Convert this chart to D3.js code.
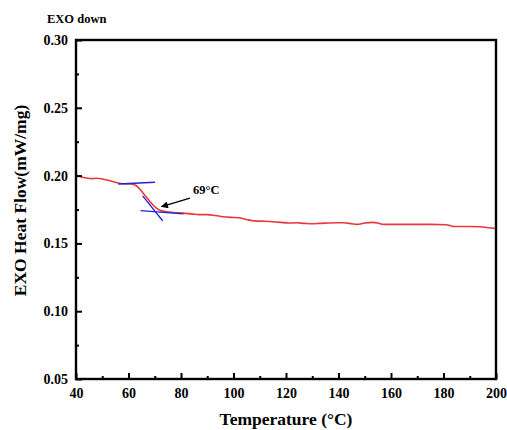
<!DOCTYPE html>
<html>
<head>
<meta charset="utf-8">
<script src="https://cdn.jsdelivr.net/npm/d3@7"></script>
<style>
  html, body { margin: 0; padding: 0; background: #fff; }
  svg { display: block; }
  text { font-family: "Liberation Serif", "Times New Roman", serif; font-weight: bold; fill: #000; }
</style>
</head>
<body>
<svg id="chart" width="507" height="430"></svg>
<script>
// DSC heating curve: temperature (°C) and heat flow (mW/mg)
const temperature = [40, 42, 44, 46, 48, 50, 53, 56, 58, 61, 63, 64.5, 66, 67.5, 69, 70.5, 72, 74, 77, 80,
  84, 87, 90, 93, 96, 99, 102, 105, 108, 112, 116, 118, 121, 124, 127, 130, 133, 136, 139, 142,
  145, 147, 150, 153, 155, 157, 165, 175, 181, 184, 190, 194, 197, 200];
const heatFlow = [0.2005, 0.1990, 0.1982, 0.1978, 0.1980, 0.1975, 0.1962, 0.1945, 0.1940, 0.1938, 0.1925, 0.1895, 0.1860, 0.1825, 0.1790, 0.1762, 0.1745, 0.1735, 0.1728, 0.1724,
  0.1718, 0.1712, 0.1712, 0.1706, 0.1697, 0.1692, 0.1689, 0.1676, 0.1666, 0.1663, 0.1658, 0.1655, 0.1650, 0.1652, 0.1648, 0.1645, 0.1648, 0.1650, 0.1652, 0.1652,
  0.1645, 0.1640, 0.1650, 0.1655, 0.1650, 0.1640, 0.1640, 0.1640, 0.1638, 0.1625, 0.1625, 0.1623, 0.1615, 0.1610];

// Tangent construction lines for the glass transition (start/end points)
const tangentTemps = [[56.1, 70.1], [65.4, 73.0], [64.6, 80.9]];
const tangentFlows = [[0.1938, 0.1951], [0.1850, 0.1667], [0.1741, 0.1717]];

// Annotation: arrow tail -> head, and label position
const arrowTemps = [83.4, 72.6];
const arrowFlows = [0.1833, 0.1771];
const labelText = "69°C";
const labelTemp = 84.6;
const labelFlow = 0.1864;

// Axis ticks
const xTicks = [40, 60, 80, 100, 120, 140, 160, 180, 200];
const xMinorTicks = [50, 70, 90, 110, 130, 150, 170, 190];
const yTicks = [0.05, 0.10, 0.15, 0.20, 0.25, 0.30];
const yMinorTicks = [0.075, 0.125, 0.175, 0.225, 0.275];

const svg = d3.select("#chart");
const margin = { left: 76, right: 11, top: 40, bottom: 51 };
const W = 507, H = 430;

const x = d3.scaleLinear().domain([40, 200]).range([margin.left, W - margin.right]);
const y = d3.scaleLinear().domain([0.05, 0.30]).range([H - margin.bottom, margin.top]);

// Curve
const pts = temperature.map((t, i) => [t, heatFlow[i]]);
svg.append("path")
  .datum(pts)
  .attr("fill", "none")
  .attr("stroke", "#e8383c")
  .attr("stroke-width", 1.6)
  .attr("stroke-linejoin", "round")
  .attr("d", d3.line().x(d => x(d[0])).y(d => y(d[1])).curve(d3.curveMonotoneX));

// Tangent lines
svg.append("g").selectAll("line")
  .data(tangentTemps.map((t, i) => ({ t, f: tangentFlows[i] })))
  .join("line")
  .attr("x1", d => x(d.t[0])).attr("y1", d => y(d.f[0]))
  .attr("x2", d => x(d.t[1])).attr("y2", d => y(d.f[1]))
  .attr("stroke", "#2323d6")
  .attr("stroke-width", 1.3);

// Arrow
svg.append("defs").append("marker")
  .attr("id", "arrowhead")
  .attr("viewBox", "0 0 10 10")
  .attr("refX", 9).attr("refY", 5)
  .attr("markerWidth", 9).attr("markerHeight", 7)
  .attr("markerUnits", "userSpaceOnUse")
  .attr("orient", "auto")
  .append("path").attr("d", "M0,0 L10,5 L0,10 z").attr("fill", "#000");

svg.append("line")
  .attr("x1", x(arrowTemps[0])).attr("y1", y(arrowFlows[0]))
  .attr("x2", x(arrowTemps[1])).attr("y2", y(arrowFlows[1]))
  .attr("stroke", "#000").attr("stroke-width", 1.3)
  .attr("marker-end", "url(#arrowhead)");

svg.append("text")
  .attr("x", x(labelTemp)).attr("y", y(labelFlow))
  .attr("font-size", 12.5)
  .text(labelText);

// Axes
const gx = svg.append("g").attr("transform", `translate(0,${y(0.05)})`);
gx.call(d3.axisBottom(x).tickValues(xTicks).tickSize(-6).tickPadding(9).tickFormat(d3.format("d")));
gx.append("g").call(d3.axisBottom(x).tickValues(xMinorTicks).tickSize(-3).tickFormat(""));

const gy = svg.append("g").attr("transform", `translate(${x(40)},0)`);
gy.call(d3.axisLeft(y).tickValues(yTicks).tickSize(-6).tickPadding(8).tickFormat(d3.format(".2f")));
gy.append("g").call(d3.axisLeft(y).tickValues(yMinorTicks).tickSize(-3).tickFormat(""));

svg.selectAll(".domain").remove();
svg.selectAll(".tick line").attr("stroke", "#000").attr("stroke-width", 2);
svg.selectAll(".tick text")
  .attr("font-size", 14)
  .attr("font-family", "Liberation Serif, Times New Roman, serif")
  .attr("font-weight", "bold")
  .attr("fill", "#000");

// Frame
svg.append("rect")
  .attr("x", x(40)).attr("y", y(0.30))
  .attr("width", x(200) - x(40)).attr("height", y(0.05) - y(0.30))
  .attr("fill", "none").attr("stroke", "#000").attr("stroke-width", 2.4);

// Titles
svg.append("text")
  .attr("x", (x(40) + x(200)) / 2).attr("y", 425)
  .attr("text-anchor", "middle").attr("font-size", 17.5)
  .text("Temperature (°C)");

svg.append("text")
  .attr("transform", `translate(26,${(y(0.05) + y(0.30)) / 2 - 9}) rotate(-90)`)
  .attr("text-anchor", "middle").attr("font-size", 17.5)
  .text("EXO Heat Flow(mW/mg)");

svg.append("text")
  .attr("x", 47).attr("y", 23)
  .attr("font-size", 12.5)
  .text("EXO down");
</script>
</body>
</html>
